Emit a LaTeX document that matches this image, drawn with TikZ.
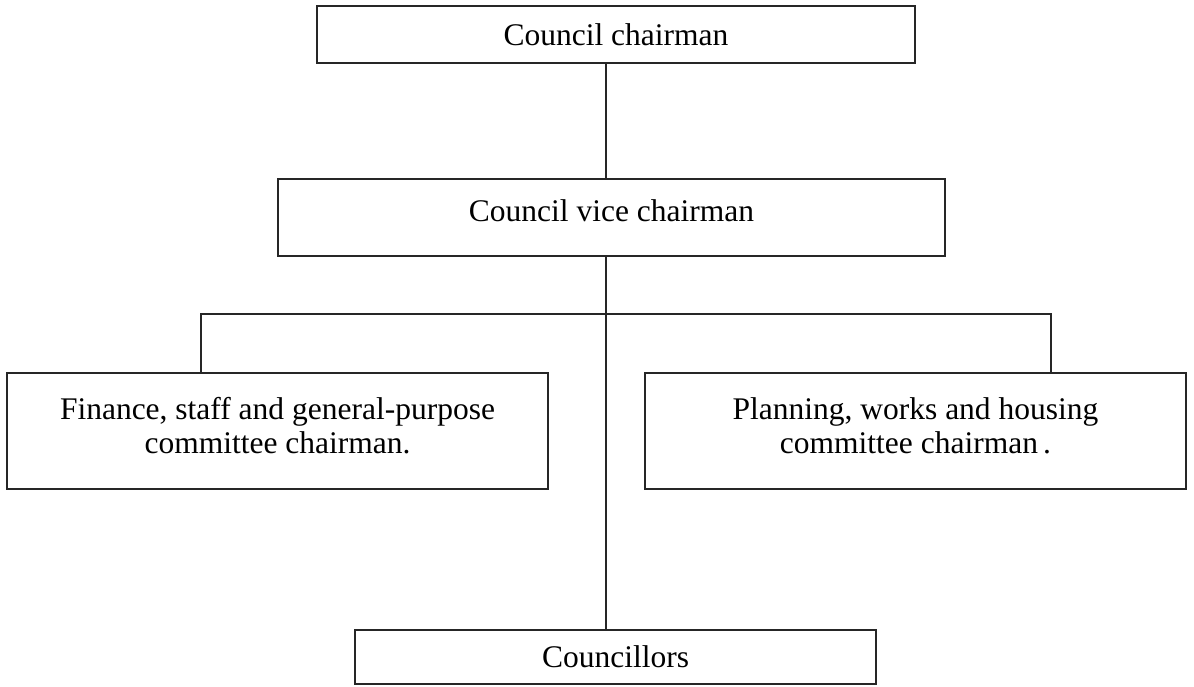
\documentclass[tikz,border=0pt]{standalone}
\usepackage{fontspec}
\setmainfont{Liberation Serif}
\begin{document}
\begin{tikzpicture}[x=1pt,y=-1pt,
  box/.style={draw=black!85, line width=1.6pt, rectangle, inner sep=0pt, align=center,
    font=\fontsize{31.5}{34}\selectfont},
  link/.style={draw=black!85, line width=1.4pt}]
\useasboundingbox (0,0) rectangle (1194,686);
\node[box, minimum width=598pt, minimum height=57pt] (chair) at (616,34.5) {Council chairman};
\node[box, minimum width=667pt, minimum height=77pt] (vice) at (611.5,217.5) {};
\node[font=\fontsize{31.5}{34}\selectfont] (vicetxt) at (611.5,211) {Council vice chairman};
\node[box, minimum width=541pt, minimum height=116pt] (fin) at (277.5,431) {};
\node[font=\fontsize{31.5}{34}\selectfont, align=center] (fintxt) at (277.5,426) {Finance, staff and general-purpose\\committee chairman.};
\node[box, minimum width=541pt, minimum height=116pt] (plan) at (915.5,431) {};
\node[font=\fontsize{31.5}{34}\selectfont, align=center] (plantxt) at (915.5,426) {Planning, works and housing\\committee chairman\,.};
\node[box, minimum width=521pt, minimum height=54pt] (coun) at (615.5,657) {Councillors};
\coordinate (stem) at (606,0);
\coordinate (jn) at (606,314);
\coordinate (lft) at (201,314);
\coordinate (rgt) at (1051,314);
\draw[link] (chair.south -| stem) -- (vice.north -| stem);
\draw[link] (vice.south -| stem) -- (coun.north -| stem);
\draw[link] (fin.north -| lft) -- (lft) -- (rgt) -- (plan.north -| rgt);
\end{tikzpicture}
\end{document}
